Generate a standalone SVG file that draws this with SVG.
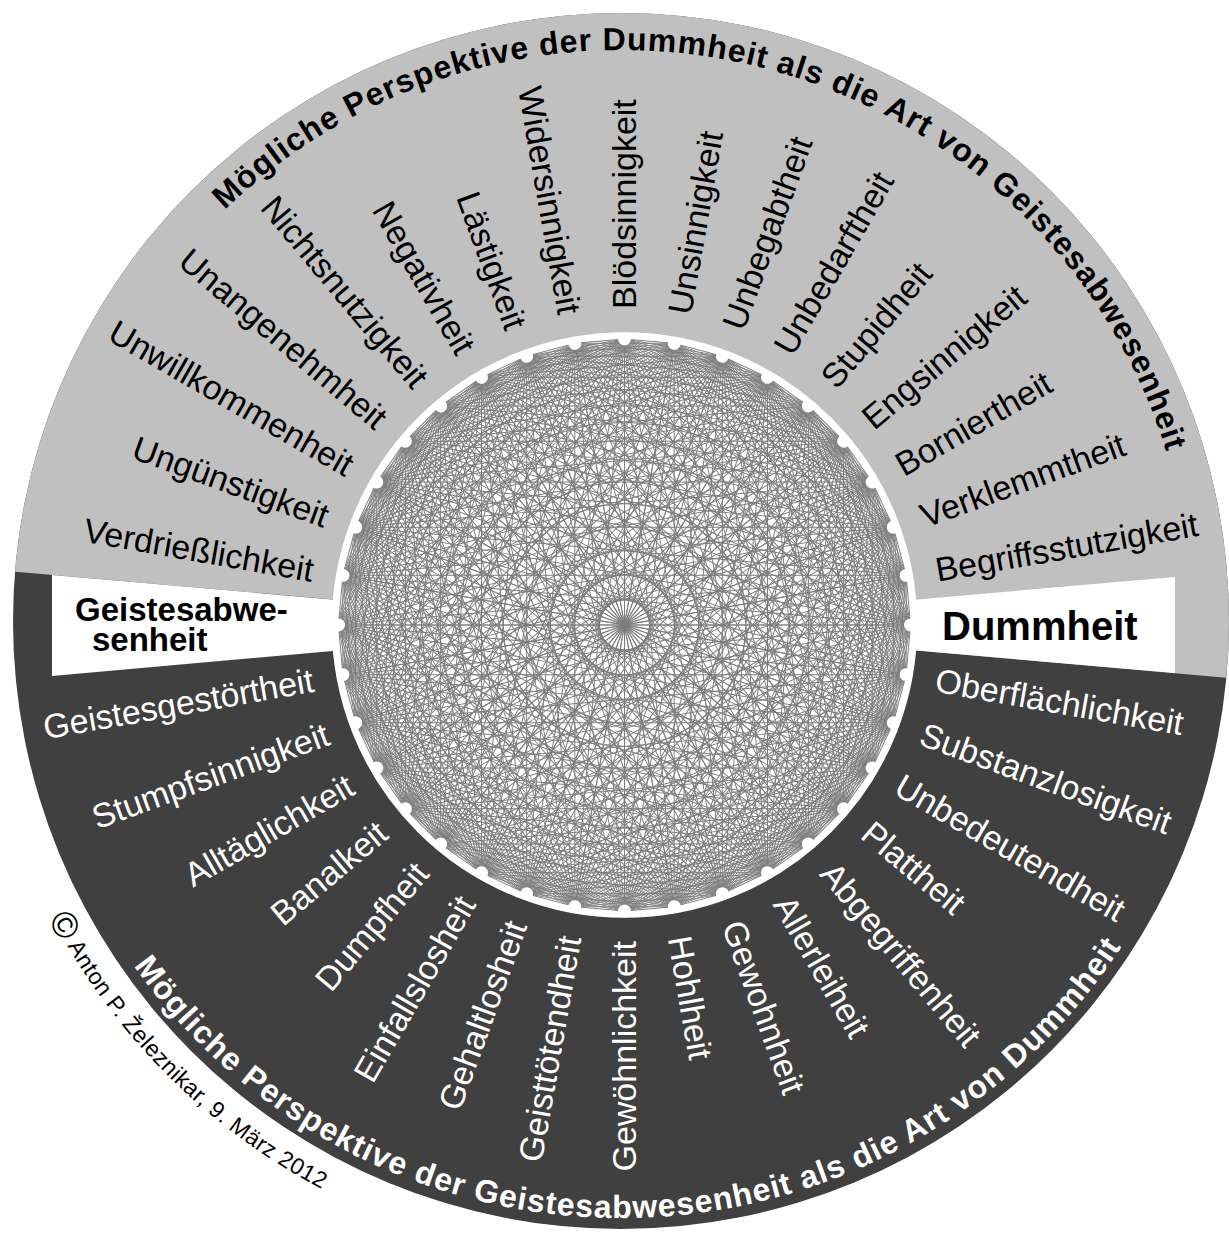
<svg xmlns="http://www.w3.org/2000/svg" xmlns:xlink="http://www.w3.org/1999/xlink" width="1229" height="1233" viewBox="0 0 1229 1233">
<style>
.lbl{font-family:"Liberation Sans",Arial,Helvetica,sans-serif;font-size:34px}
.dk{fill:#000}
.lt{fill:#fff}
.ttl{font-family:"Liberation Sans",Arial,Helvetica,sans-serif;font-size:32px;font-weight:bold;letter-spacing:1px}
.key{font-family:"Liberation Sans",Arial,Helvetica,sans-serif;font-weight:bold;fill:#000}
.copy{font-family:"Liberation Sans",Arial,Helvetica,sans-serif;font-size:23px;fill:#000;letter-spacing:0.4px}
.chord{stroke:#7d7d7d;stroke-width:0.95;fill:none}
</style>
<defs>
<clipPath id="discClip"><circle cx="621" cy="621" r="608"/></clipPath>
<path id="topArc" d="M183.6,254.0 A571,571 0 0 1 1183.3,521.85"/>
<path id="botArc" d="M104.0,919.5 A597,597 0 0 0 1162.1,873.3"/>
<path id="copyArc" d="M17.7,840.6 A642,642 0 0 0 509.5,1253.2"/>
<g id="fan">
<line x1="286" y1="0" x2="281.66" y2="49.66"/>
<line x1="286" y1="0" x2="268.75" y2="97.82"/>
<line x1="286" y1="0" x2="247.68" y2="143"/>
<line x1="286" y1="0" x2="219.09" y2="183.84"/>
<line x1="286" y1="0" x2="183.84" y2="219.09"/>
<line x1="286" y1="0" x2="143" y2="247.68"/>
<line x1="286" y1="0" x2="97.82" y2="268.75"/>
<line x1="286" y1="0" x2="49.66" y2="281.66"/>
<line x1="286" y1="0" x2="0" y2="286"/>
<line x1="286" y1="0" x2="-49.66" y2="281.66"/>
<line x1="286" y1="0" x2="-97.82" y2="268.75"/>
<line x1="286" y1="0" x2="-143" y2="247.68"/>
<line x1="286" y1="0" x2="-183.84" y2="219.09"/>
<line x1="286" y1="0" x2="-219.09" y2="183.84"/>
<line x1="286" y1="0" x2="-247.68" y2="143"/>
<line x1="286" y1="0" x2="-268.75" y2="97.82"/>
<line x1="286" y1="0" x2="-281.66" y2="49.66"/>
<line x1="286" y1="0" x2="-286" y2="0"/>
</g>
<circle id="dot" cx="286" cy="0" r="6.5" fill="#fff"/>
</defs>

<g id="background">
<circle cx="621" cy="621" r="608" fill="#404040"/>
<polygon clip-path="url(#discClip)" fill="#c0c0c0" points="624.5,625 -371.7,537.8 -372,-400 1621,-400 1620.7,712.2"/>
<polygon fill="#fff" points="624.5,625 52,575 52,676"/>
<polygon fill="#fff" points="624.5,625 1175,577 1175,673"/>
<circle cx="624.5" cy="625" r="291" fill="#fff"/>
</g>

<g id="connectors" class="chord" transform="translate(624.5,625)">
<use href="#fan"/>
<use href="#fan" transform="rotate(10)"/>
<use href="#fan" transform="rotate(20)"/>
<use href="#fan" transform="rotate(30)"/>
<use href="#fan" transform="rotate(40)"/>
<use href="#fan" transform="rotate(50)"/>
<use href="#fan" transform="rotate(60)"/>
<use href="#fan" transform="rotate(70)"/>
<use href="#fan" transform="rotate(80)"/>
<use href="#fan" transform="rotate(90)"/>
<use href="#fan" transform="rotate(100)"/>
<use href="#fan" transform="rotate(110)"/>
<use href="#fan" transform="rotate(120)"/>
<use href="#fan" transform="rotate(130)"/>
<use href="#fan" transform="rotate(140)"/>
<use href="#fan" transform="rotate(150)"/>
<use href="#fan" transform="rotate(160)"/>
<use href="#fan" transform="rotate(170)"/>
<use href="#fan" transform="rotate(180)"/>
<use href="#fan" transform="rotate(190)"/>
<use href="#fan" transform="rotate(200)"/>
<use href="#fan" transform="rotate(210)"/>
<use href="#fan" transform="rotate(220)"/>
<use href="#fan" transform="rotate(230)"/>
<use href="#fan" transform="rotate(240)"/>
<use href="#fan" transform="rotate(250)"/>
<use href="#fan" transform="rotate(260)"/>
<use href="#fan" transform="rotate(270)"/>
<use href="#fan" transform="rotate(280)"/>
<use href="#fan" transform="rotate(290)"/>
<use href="#fan" transform="rotate(300)"/>
<use href="#fan" transform="rotate(310)"/>
<use href="#fan" transform="rotate(320)"/>
<use href="#fan" transform="rotate(330)"/>
<use href="#fan" transform="rotate(340)"/>
<use href="#fan" transform="rotate(350)"/>
</g>

<g id="ring">
<circle cx="624.5" cy="625" r="291" fill="none" stroke="#fff" stroke-width="3.5"/>
</g>

<g id="dots" transform="translate(624.5,625)">
<use href="#dot"/>
<use href="#dot" transform="rotate(10)"/>
<use href="#dot" transform="rotate(20)"/>
<use href="#dot" transform="rotate(30)"/>
<use href="#dot" transform="rotate(40)"/>
<use href="#dot" transform="rotate(50)"/>
<use href="#dot" transform="rotate(60)"/>
<use href="#dot" transform="rotate(70)"/>
<use href="#dot" transform="rotate(80)"/>
<use href="#dot" transform="rotate(90)"/>
<use href="#dot" transform="rotate(100)"/>
<use href="#dot" transform="rotate(110)"/>
<use href="#dot" transform="rotate(120)"/>
<use href="#dot" transform="rotate(130)"/>
<use href="#dot" transform="rotate(140)"/>
<use href="#dot" transform="rotate(150)"/>
<use href="#dot" transform="rotate(160)"/>
<use href="#dot" transform="rotate(170)"/>
<use href="#dot" transform="rotate(180)"/>
<use href="#dot" transform="rotate(190)"/>
<use href="#dot" transform="rotate(200)"/>
<use href="#dot" transform="rotate(210)"/>
<use href="#dot" transform="rotate(220)"/>
<use href="#dot" transform="rotate(230)"/>
<use href="#dot" transform="rotate(240)"/>
<use href="#dot" transform="rotate(250)"/>
<use href="#dot" transform="rotate(260)"/>
<use href="#dot" transform="rotate(270)"/>
<use href="#dot" transform="rotate(280)"/>
<use href="#dot" transform="rotate(290)"/>
<use href="#dot" transform="rotate(300)"/>
<use href="#dot" transform="rotate(310)"/>
<use href="#dot" transform="rotate(320)"/>
<use href="#dot" transform="rotate(330)"/>
<use href="#dot" transform="rotate(340)"/>
<use href="#dot" transform="rotate(350)"/>
</g>

<g id="labels-upper" class="lbl dk">
<g id="n-verdriesslichkeit"><text x="308.5" y="625" dy="0.35em" text-anchor="end" transform="rotate(10 624.5 625)">Verdrießlichkeit</text></g>
<g id="n-unguenstigkeit"><text x="308.5" y="625" dy="0.35em" text-anchor="end" transform="rotate(20 624.5 625)">Ungünstigkeit</text></g>
<g id="n-unwillkommenheit"><text x="308.5" y="625" dy="0.35em" text-anchor="end" transform="rotate(30 624.5 625)">Unwillkommenheit</text></g>
<g id="n-unangenehmheit"><text x="308.5" y="625" dy="0.35em" text-anchor="end" transform="rotate(40 624.5 625)">Unangenehmheit</text></g>
<g id="n-nichtsnutzigkeit"><text x="308.5" y="625" dy="0.35em" text-anchor="end" transform="rotate(50 624.5 625)">Nichtsnutzigkeit</text></g>
<g id="n-negativheit"><text x="308.5" y="625" dy="0.35em" text-anchor="end" transform="rotate(60 624.5 625)">Negativheit</text></g>
<g id="n-laestigkeit"><text x="308.5" y="625" dy="0.35em" text-anchor="end" transform="rotate(70 624.5 625)">Lästigkeit</text></g>
<g id="n-widersinnigkeit"><text x="308.5" y="625" dy="0.35em" text-anchor="end" transform="rotate(80 624.5 625)">Widersinnigkeit</text></g>
<g id="n-bloedsinnigkeit"><text x="940.5" y="625" dy="0.35em" transform="rotate(-90 624.5 625)">Blödsinnigkeit</text></g>
<g id="n-unsinnigkeit"><text x="940.5" y="625" dy="0.35em" transform="rotate(-80 624.5 625)">Unsinnigkeit</text></g>
<g id="n-unbegabtheit"><text x="940.5" y="625" dy="0.35em" transform="rotate(-70 624.5 625)">Unbegabtheit</text></g>
<g id="n-unbedarftheit"><text x="940.5" y="625" dy="0.35em" transform="rotate(-60 624.5 625)">Unbedarftheit</text></g>
<g id="n-stupidheit"><text x="940.5" y="625" dy="0.35em" transform="rotate(-50 624.5 625)">Stupidheit</text></g>
<g id="n-engsinnigkeit"><text x="940.5" y="625" dy="0.35em" transform="rotate(-40 624.5 625)">Engsinnigkeit</text></g>
<g id="n-borniertheit"><text x="940.5" y="625" dy="0.35em" transform="rotate(-30 624.5 625)">Borniertheit</text></g>
<g id="n-verklemmtheit"><text x="940.5" y="625" dy="0.35em" transform="rotate(-20 624.5 625)">Verklemmtheit</text></g>
<g id="n-begriffsstutzigkeit"><text x="940.5" y="625" dy="0.35em" transform="rotate(-10 624.5 625)">Begriffsstutzigkeit</text></g>
</g>

<g id="labels-lower" class="lbl lt">
<g id="n-geistesgestoertheit"><text x="308.5" y="625" dy="0.35em" text-anchor="end" transform="rotate(-10 624.5 625)">Geistesgestörtheit</text></g>
<g id="n-stumpfsinnigkeit"><text x="308.5" y="625" dy="0.35em" text-anchor="end" transform="rotate(-20 624.5 625)">Stumpfsinnigkeit</text></g>
<g id="n-alltaeglichkeit"><text x="308.5" y="625" dy="0.35em" text-anchor="end" transform="rotate(-30 624.5 625)">Alltäglichkeit</text></g>
<g id="n-banalkeit"><text x="308.5" y="625" dy="0.35em" text-anchor="end" transform="rotate(-40 624.5 625)">Banalkeit</text></g>
<g id="n-dumpfheit"><text x="308.5" y="625" dy="0.35em" text-anchor="end" transform="rotate(-50 624.5 625)">Dumpfheit</text></g>
<g id="n-einfallslosheit"><text x="308.5" y="625" dy="0.35em" text-anchor="end" transform="rotate(-60 624.5 625)">Einfallslosheit</text></g>
<g id="n-gehaltlosheit"><text x="308.5" y="625" dy="0.35em" text-anchor="end" transform="rotate(-70 624.5 625)">Gehaltlosheit</text></g>
<g id="n-geisttoetendheit"><text x="308.5" y="625" dy="0.35em" text-anchor="end" transform="rotate(-80 624.5 625)">Geisttötendheit</text></g>
<g id="n-gewoehnlichkeit"><text x="308.5" y="625" dy="0.35em" text-anchor="end" transform="rotate(-90 624.5 625)">Gewöhnlichkeit</text></g>
<g id="n-hohlheit"><text x="940.5" y="625" dy="0.35em" transform="rotate(80 624.5 625)">Hohlheit</text></g>
<g id="n-gewohnheit"><text x="940.5" y="625" dy="0.35em" transform="rotate(70 624.5 625)">Gewohnheit</text></g>
<g id="n-allerleiheit"><text x="940.5" y="625" dy="0.35em" transform="rotate(60 624.5 625)">Allerleiheit</text></g>
<g id="n-abgegriffenheit"><text x="940.5" y="625" dy="0.35em" transform="rotate(50 624.5 625)">Abgegriffenheit</text></g>
<g id="n-plattheit"><text x="940.5" y="625" dy="0.35em" transform="rotate(40 624.5 625)">Plattheit</text></g>
<g id="n-unbedeutendheit"><text x="940.5" y="625" dy="0.35em" transform="rotate(30 624.5 625)">Unbedeutendheit</text></g>
<g id="n-substanzlosigkeit"><text x="940.5" y="625" dy="0.35em" transform="rotate(20 624.5 625)">Substanzlosigkeit</text></g>
<g id="n-oberflaechlichkeit"><text x="940.5" y="625" dy="0.35em" transform="rotate(10 624.5 625)">Oberflächlichkeit</text></g>
</g>

<g id="n-geistesabwesenheit">
<text class="key" font-size="33" x="75" y="621">Geistesabwe-</text>
<text class="key" font-size="33" x="92" y="651">senheit</text>
</g>
<g id="n-dummheit">
<text class="key" font-size="40" x="942" y="640">Dummheit</text>
</g>

<g id="title-upper">
<text class="ttl dk"><textPath href="#topArc" startOffset="60">Mögliche Perspektive der Dummheit als die Art von Geistesabwesenheit</textPath></text>
</g>
<g id="title-lower">
<text class="ttl lt"><textPath href="#botArc" startOffset="55">Mögliche Perspektive der Geistesabwesenheit als die Art von Dummheit</textPath></text>
</g>
<g id="copyright">
<text class="copy"><textPath href="#copyArc" startOffset="84"><tspan font-size="36" dy="4">©</tspan><tspan dy="-4"> Anton P. Železnikar, 9. März 2012</tspan></textPath></text>
</g>
</svg>
